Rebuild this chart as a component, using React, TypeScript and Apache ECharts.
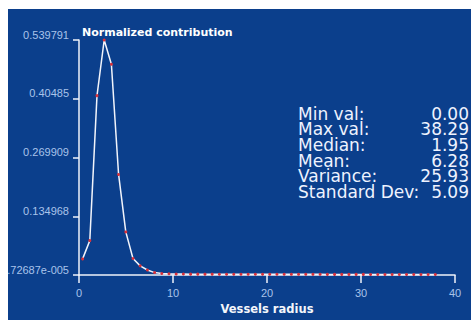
import React, { useEffect, useRef } from "react";
import * as echarts from "echarts";

const MAX_RADIUS = 38.29;
const BIN_COUNT = 50;
const contribution = [
  0.037, 0.079, 0.412, 0.539791, 0.484, 0.231, 0.099, 0.038, 0.021, 0.0115,
  0.0055, 0.0035, 0.0028, 0.0024, 0.0022, 0.002, 0.002, 0.0019, 0.0019, 0.0018,
  0.0018, 0.0018, 0.0017, 0.0017, 0.0017, 0.0016, 0.0016, 0.0016, 0.0016, 0.0015,
  0.0015, 0.0015, 0.0015, 0.0015, 0.0014, 0.0014, 0.0014, 0.0014, 0.0014, 0.0014,
  0.0013, 0.0013, 0.0013, 0.0013, 0.0013, 0.0013, 0.0013, 0.0013, 0.0012, 0.0012,
];
const yTickLabels = ["7.72687e-005", "0.134968", "0.269909", "0.40485", "0.539791"];
const Y_MAX = 0.539791;
const xTickStep = 10;
const xMax = 40;
const statLabels = ["Min val:", "Max val:", "Median:", "Mean:", "Variance:", "Standard Dev:"];
const statValues = ["0.00", "38.29", "1.95", "6.28", "25.93", "5.09"];

export default function App() {
  const ref = useRef<HTMLDivElement>(null);
  useEffect(() => {
    if (!ref.current) return;
    const chart = echarts.init(ref.current, undefined, { renderer: "svg" });
    const binW = MAX_RADIUS / BIN_COUNT;
    const data = contribution.map((v, i) => [(i + 0.5) * binW, v]);
    const yInterval = Y_MAX / 4;
    const statStyle = {
      fontSize: 17,
      fontFamily: "DejaVu Sans",
      fill: "#eef3ff",
      lineHeight: 15.6,
      textVerticalAlign: "top",
    };
    chart.setOption({
      animation: false,
      backgroundColor: "#0b3f8c",
      grid: { left: 71, top: 31, right: 16, bottom: 45, outerBoundsMode: "none", containLabel: false },
      xAxis: {
        type: "value",
        min: 0,
        max: xMax,
        interval: xTickStep,
        name: "Vessels radius",
        nameLocation: "middle",
        nameGap: 28,
        nameTextStyle: { color: "#f4f6fb", fontWeight: "bold", fontSize: 11.5, fontFamily: "DejaVu Sans" },
        axisLine: { lineStyle: { color: "#f0f3fa", width: 1.5 } },
        axisTick: { show: true, inside: false, length: 8, lineStyle: { color: "#f0f3fa", width: 1.5 } },
        axisLabel: { color: "#a9c3ea", fontSize: 11, fontFamily: "Liberation Sans", margin: 12 },
        splitLine: { show: false },
      },
      yAxis: {
        type: "value",
        min: 0,
        max: Y_MAX,
        interval: yInterval,
        name: "Normalized contribution",
        nameLocation: "end",
        nameGap: 2,
        nameTextStyle: {
          color: "#ffffff",
          fontWeight: "bold",
          fontSize: 11,
          fontFamily: "DejaVu Sans",
          align: "left",
          verticalAlign: "bottom",
          padding: [0, 0, 0, 3],
        },
        axisLine: { show: true, lineStyle: { color: "#f0f3fa", width: 1.5 } },
        axisTick: { show: true, length: 6, lineStyle: { color: "#f0f3fa", width: 1.5 } },
        axisLabel: {
          color: "#a9c3ea",
          fontSize: 11,
          fontFamily: "Liberation Sans",
          margin: 10,
          verticalAlign: "bottom",
          formatter: (v: number) => yTickLabels[Math.round(v / yInterval)] ?? "",
        },
        splitLine: { show: false },
      },
      series: [
        {
          type: "line",
          data,
          clip: false,
          lineStyle: { color: "#f2f4fb", width: 1.5 },
          symbol: "circle",
          symbolSize: 3,
          itemStyle: { color: "#d8303a" },
          showSymbol: true,
        },
      ],
      graphic: [
        {
          type: "text",
          x: 290,
          y: 97,
          style: { ...statStyle, text: statLabels.join("\n"), textAlign: "left" },
        },
        {
          type: "text",
          x: 461,
          y: 97,
          style: { ...statStyle, text: statValues.join("\n"), textAlign: "right" },
        },
      ],
    });
    return () => chart.dispose();
  }, []);
  return (
    <div
      ref={ref}
      style={{ position: "fixed", left: 8, top: 9, width: 463, height: 311 }}
    />
  );
}
